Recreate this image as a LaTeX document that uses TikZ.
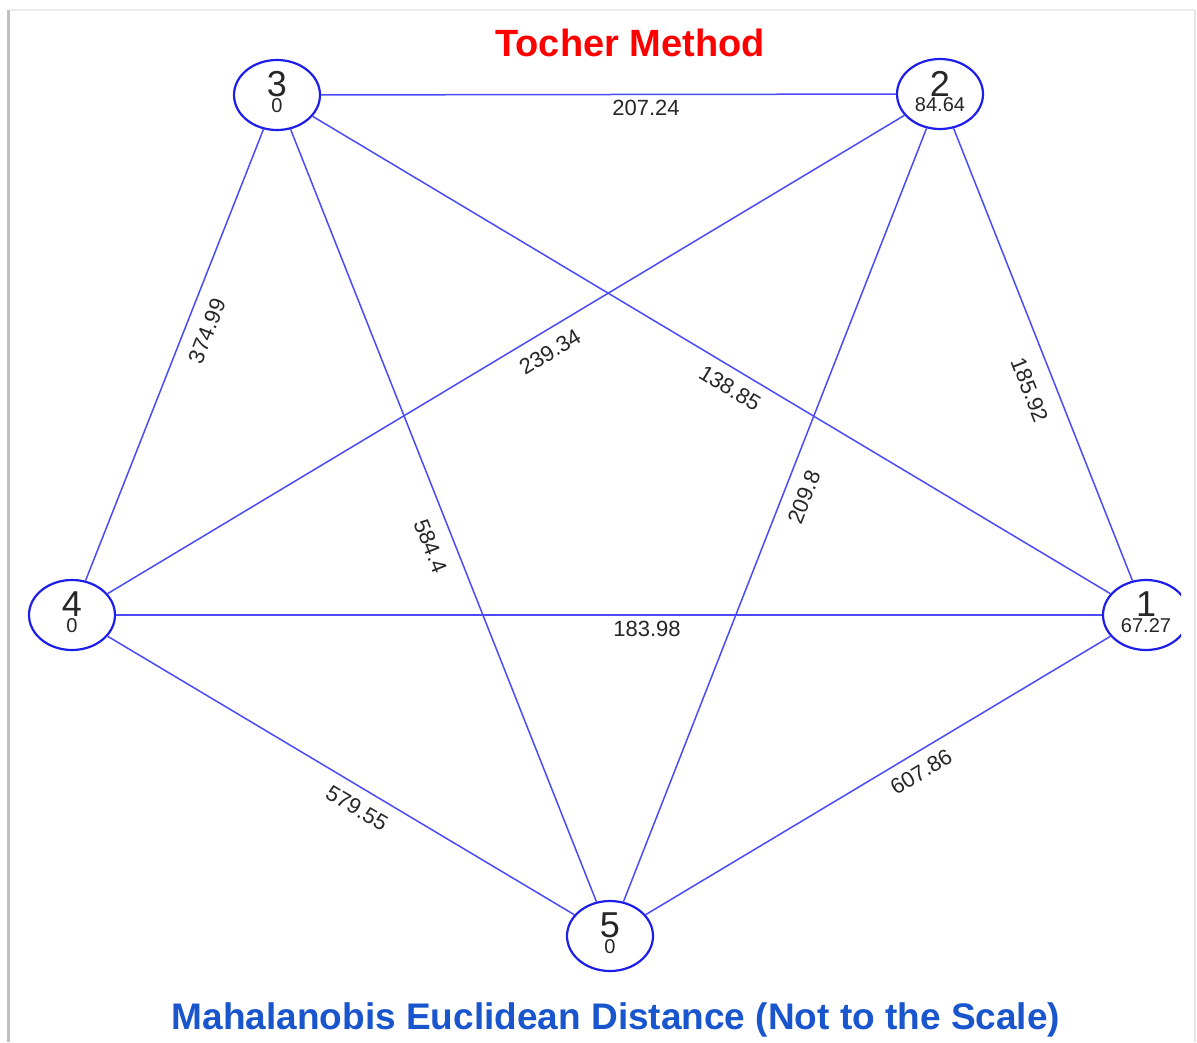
\documentclass[tikz,border=0pt]{standalone}
\usepackage{fontspec}
\setmainfont{Liberation Sans}
\usetikzlibrary{shapes.geometric}
\definecolor{edgeblue}{RGB}{75,75,250}
\definecolor{nodeblue}{RGB}{30,30,235}
\definecolor{subblue}{RGB}{25,85,205}
\begin{document}
\begin{tikzpicture}[x=1pt,y=-1pt,
  vert/.style={ellipse, draw=nodeblue, line width=2.2pt, minimum width=86pt, minimum height=70pt, inner sep=0pt},
  conn/.style={draw=edgeblue, line width=1.5pt},
  elbl/.style={font=\fontsize{22}{22}\selectfont, inner sep=0pt, text=black!85},
  num/.style={font=\fontsize{36}{36}\selectfont, inner sep=0pt, text=black!85},
  val/.style={font=\fontsize{20}{20}\selectfont, inner sep=0pt, text=black!85}]
\useasboundingbox (0,0) rectangle (1197,1042);
\fill[white] (0,0) rectangle (1197,1042);
% frame shadow
\draw[gray!50, line width=3pt] (8,10) -- (8,1042);
\draw[gray!15, line width=1.5pt] (10,10) -- (1195,10);
\draw[gray!20, line width=1.5pt] (1195,10) -- (1195,1042);
\begin{scope}
\clip (0,0) rectangle (1181,1042);
\node[vert] (n3) at (277,95) {};
\node[vert] (n2) at (940,94) {};
\node[vert] (n4) at (72,615) {};
\node[vert] (n1) at (1146,615) {};
\node[vert] (n5) at (610,936) {};
\draw[conn] (n3) -- (n2);
\draw[conn] (n3) -- (n4);
\draw[conn] (n3) -- (n5);
\draw[conn] (n3) -- (n1);
\draw[conn] (n2) -- (n4);
\draw[conn] (n2) -- (n1);
\draw[conn] (n2) -- (n5);
\draw[conn] (n4) -- (n1);
\draw[conn] (n4) -- (n5);
\draw[conn] (n1) -- (n5);
\foreach \n/\a/\b in {n3/3/0, n2/2/84.64, n4/4/0, n1/1/67.27, n5/5/0}{
  \node[num] (\n num) at ([yshift=10.5pt]\n.center) {\a};
  \node[val] (\n val) at ([yshift=-11pt]\n.center) {\b};
}
\end{scope}
% edge labels
\node[elbl] (l32) at (646,108) {207.24};
\node[elbl] (l41) at (647,629) {183.98};
\node[elbl, rotate=68.5] (l34) at (207,331) {374.99};
\node[elbl, rotate=-68.4] (l35) at (431,546) {584.4};
\node[elbl, rotate=-30.9] (l31) at (730,388) {138.85};
\node[elbl, rotate=31] (l24) at (550,352) {239.34};
\node[elbl, rotate=-68.4] (l21) at (1030,390) {185.92};
\node[elbl, rotate=68.6] (l25) at (804,497) {209.8};
\node[elbl, rotate=-30.8] (l45) at (357,808) {579.55};
\node[elbl, rotate=30.9] (l15) at (921,772) {607.86};
% titles
\node[font=\fontsize{38}{38}\selectfont\bfseries, text=red, anchor=base, inner sep=0pt] (title) at (630,56) {Tocher Method};
\node[font=\fontsize{37}{38}\selectfont\bfseries, text=subblue, anchor=base, inner sep=0pt] (sub) at (616,1029) {Mahalanobis Euclidean Distance (Not to the Scale)};
\end{tikzpicture}
\end{document}
